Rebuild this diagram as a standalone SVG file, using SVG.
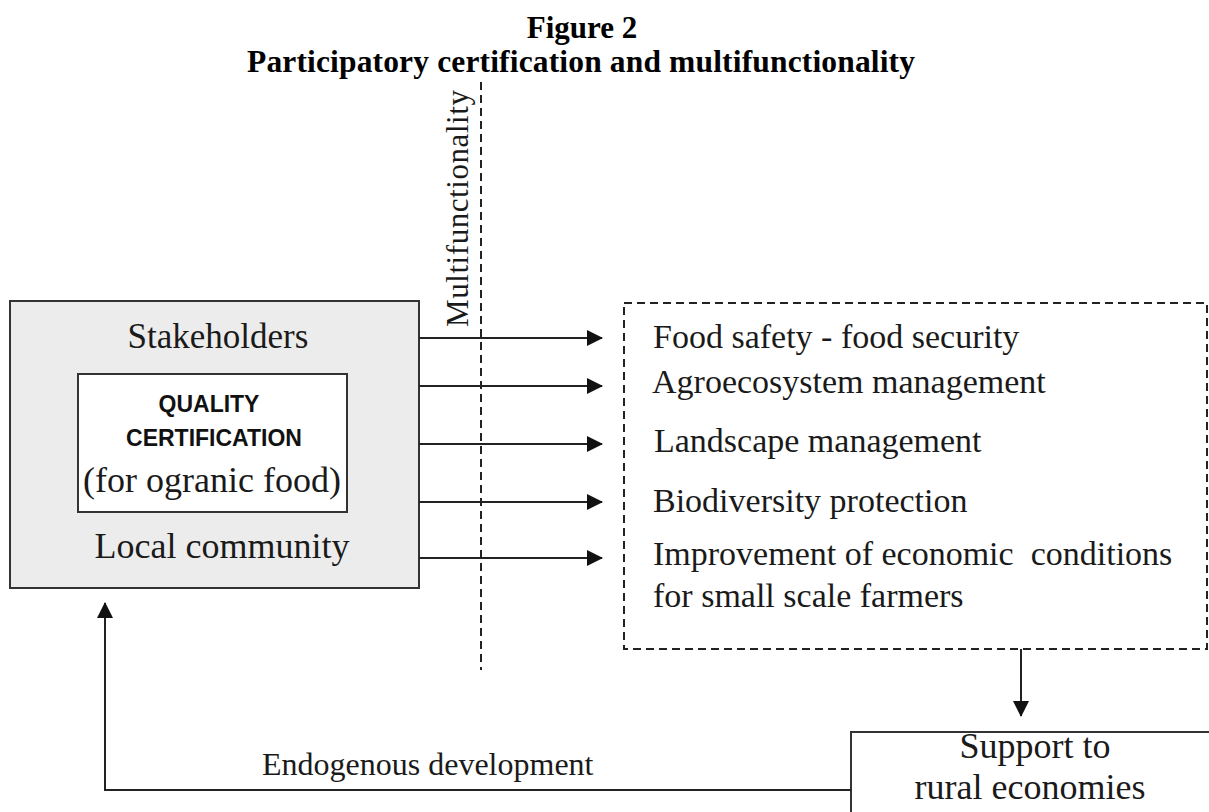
<svg xmlns="http://www.w3.org/2000/svg" width="1209" height="812" viewBox="0 0 1209 812">
<style>
.serif{font-family:"Liberation Serif","Times New Roman",serif;fill:#1a1a1a;white-space:pre}
.bold{font-weight:bold;fill:#000}
.sans{font-family:"Liberation Sans",Arial,sans-serif;font-weight:bold;fill:#111}
.box{stroke:#333;stroke-width:2}
.line{stroke:#222;stroke-width:2;fill:none}
.dash{stroke:#222;stroke-width:2;fill:none;stroke-dasharray:8 5}
</style>
<defs>
<marker id="ah" markerWidth="16" markerHeight="16" refX="15" refY="8" orient="auto" markerUnits="userSpaceOnUse">
<path d="M0,0 L16,8 L0,16 Z" fill="#111"/>
</marker>
</defs>
<rect width="1209" height="812" fill="#fff"/>
<g id="title">
<text class="serif bold" x="582" y="38" font-size="31" text-anchor="middle">Figure 2</text>
<text class="serif bold" x="581" y="72" font-size="31.5" text-anchor="middle" textLength="668">Participatory certification and multifunctionality</text>
</g>
<g id="multifunctionality">
<line class="dash" x1="481" y1="82" x2="481" y2="670"/>
<text class="serif" transform="translate(468,327) rotate(-90)" font-size="31" textLength="237" fill="#333">Multifunctionality</text>
</g>
<g id="stakeholders">
<rect class="box" x="10" y="301" width="409" height="287" fill="#ececec"/>
<text class="serif" x="218" y="348" font-size="35" text-anchor="middle">Stakeholders</text>
<text class="serif" x="222" y="558" font-size="36" text-anchor="middle">Local community</text>
</g>
<g id="quality">
<rect class="box" x="78" y="374" width="269" height="138" fill="#fff"/>
<text class="sans" x="209" y="412" font-size="23" text-anchor="middle">QUALITY</text>
<text class="sans" x="214" y="446" font-size="23" text-anchor="middle">CERTIFICATION</text>
<text class="serif" x="212" y="492" font-size="36" text-anchor="middle" textLength="258">(for ogranic food)</text>
</g>
<g id="functions">
<rect class="dash" x="624" y="303" width="583" height="346"/>
<text class="serif" x="653" y="348" font-size="34">Food safety - food security</text>
<text class="serif" x="652" y="393" font-size="34">Agroecosystem management</text>
<text class="serif" x="654" y="452" font-size="34">Landscape management</text>
<text class="serif" x="653" y="512" font-size="34">Biodiversity protection</text>
<text class="serif" x="653" y="565" font-size="34">Improvement of economic  conditions</text>
<text class="serif" x="653" y="607" font-size="34">for small scale farmers</text>
</g>
<g id="support">
<rect class="box" x="851" y="732" width="400" height="120" fill="#fff"/>
<text class="serif" x="1035" y="758" font-size="36" text-anchor="middle">Support to</text>
<text class="serif" x="1030" y="799" font-size="36" text-anchor="middle">rural economies</text>
</g>
<g id="connectors">
<line class="line" x1="419" y1="338" x2="602" y2="338" marker-end="url(#ah)"/>
<line class="line" x1="419" y1="386" x2="602" y2="386" marker-end="url(#ah)"/>
<line class="line" x1="419" y1="444" x2="602" y2="444" marker-end="url(#ah)"/>
<line class="line" x1="419" y1="502" x2="602" y2="502" marker-end="url(#ah)"/>
<line class="line" x1="419" y1="558" x2="602" y2="558" marker-end="url(#ah)"/>
<line class="line" x1="1021" y1="649" x2="1021" y2="716" marker-end="url(#ah)"/>
<polyline class="line" points="851,790 105,790 105,603" marker-end="url(#ah)"/>
<text class="serif" x="262" y="775" font-size="32">Endogenous development</text>
</g>
</svg>
